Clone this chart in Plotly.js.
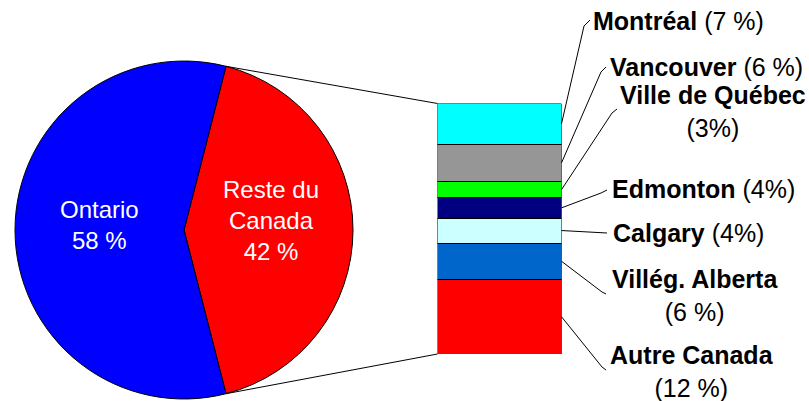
<!DOCTYPE html>
<html><head><meta charset="utf-8">
<script src="https://cdn.plot.ly/plotly-3.0.1.min.js"></script>
<style>html,body{margin:0;padding:0;background:#fff;}#chart{width:809px;height:401px;}</style>
</head><body><div id="chart"></div>
<script>
// ---- data ----
const pieLabels = ['Reste du<br>Canada', 'Ontario'];
const pieValues = [42, 58];
const pieColors = ['#FF0000', '#0000FF'];

const cityNames = ['Autre Canada', 'Villég. Alberta', 'Calgary', 'Edmonton', 'Ville de Québec', 'Vancouver', 'Montréal'];
// segment sizes as drawn in the bar
const cityValues = [12.5, 6.1, 4.2, 3.4, 2.7, 6.3, 6.8];
const cityPctText = ['(12 %)', '(6 %)', '(4%)', '(4%)', '(3%)', '(6 %)', '(7 %)'];
const cityColors = ['#FF0000', '#0066CC', '#CCFFFF', '#000080', '#00FF00', '#969696', '#00FFFF'];

// ---- layout geometry (pixels) ----
const W = 809, H = 401;
const FONT = '"Liberation Sans", Arial, sans-serif';
const pieBox = {x0: 15, x1: 353, y0: 61, y1: 399};
const barBox = {x0: 437.5, x1: 561.5, y0: 103.5, y1: 354};
// pie label centres [x, y]
const pieLabelPos = [[271, 220], [99, 225]];
// city labels: [twoLines, anchorX, xanchor, centerY, leaderEnd, hookEnd]
const labelPos = [
  [true, 692, 'center', 371, [602, 367], [606, 370]],
  [true, 695, 'center', 295, [602, 292], [606, 294]],
  [false, 612.5, 'left', 233, [607, 233], [607, 233]],
  [false, 611.5, 'left', 188.5, [601, 193], [607, 190]],
  [true, 713, 'center', 111.5, [612, 113], [617, 109]],
  [false, 610, 'left', 67, [601, 72], [606, 67]],
  [false, 593, 'left', 21, [584, 26], [590, 20]]
];

const fx = p => p / W;
const fy = p => 1 - p / H;

const total = cityValues.reduce((a, b) => a + b, 0);
const yPix = v => barBox.y1 - (v / total) * (barBox.y1 - barBox.y0);

// pie geometry
const pieTotal = pieValues.reduce((a, b) => a + b, 0);
const sweep = pieValues[0] / pieTotal * 360;
const rotation = 90 - sweep / 2;
const cx = (pieBox.x0 + pieBox.x1) / 2, cy = (pieBox.y0 + pieBox.y1) / 2;
const R = Math.min(pieBox.x1 - pieBox.x0, pieBox.y1 - pieBox.y0) / 2;
const rad = d => d * Math.PI / 180;
const pTop = [cx + R * Math.sin(rad(rotation)), cy - R * Math.cos(rad(rotation))];
const pBot = [cx + R * Math.sin(rad(rotation + sweep)), cy - R * Math.cos(rad(rotation + sweep))];

const traces = [];
traces.push({
  type: 'pie',
  values: pieValues,
  labels: pieLabels,
  textinfo: 'none',
  marker: {colors: pieColors, line: {color: '#000000', width: 1}},
  sort: false,
  direction: 'clockwise',
  rotation: rotation,
  domain: {x: [fx(pieBox.x0), fx(pieBox.x1)], y: [fy(pieBox.y1), fy(pieBox.y0)]},
  showlegend: false,
  hoverinfo: 'none'
});
cityNames.forEach((n, i) => {
  traces.push({
    type: 'bar',
    x: [0],
    y: [cityValues[i]],
    name: n,
    width: 1,
    marker: {color: cityColors[i], line: {color: '#000000', width: 1}},
    showlegend: false,
    hoverinfo: 'none'
  });
});

const shapes = [];
const annotations = [];
// pie labels
pieLabels.forEach((l, i) => {
  annotations.push({
    xref: 'paper', yref: 'paper',
    x: fx(pieLabelPos[i][0]), y: fy(pieLabelPos[i][1]),
    xanchor: 'center', yanchor: 'middle', align: 'center',
    showarrow: false,
    text: l + '<br>' + pieValues[i] + ' %',
    font: {family: FONT, size: 24, color: '#FFFFFF'}
  });
});
// connectors from pie to bar
shapes.push({type: 'line', xref: 'paper', yref: 'paper', x0: fx(pTop[0]), y0: fy(pTop[1]), x1: fx(barBox.x0), y1: fy(barBox.y0), line: {color: '#000000', width: 1}});
shapes.push({type: 'line', xref: 'paper', yref: 'paper', x0: fx(pBot[0]), y0: fy(pBot[1]), x1: fx(barBox.x0), y1: fy(barBox.y1), line: {color: '#000000', width: 1}});

let cum = 0;
cityNames.forEach((n, i) => {
  const mid = cum + cityValues[i] / 2;
  cum += cityValues[i];
  const [two, ax, xanc, tcy, le, he] = labelPos[i];
  const sx = barBox.x1, sy = yPix(mid);
  const path = `M ${fx(sx)},${fy(sy)} L ${fx(le[0])},${fy(le[1])} L ${fx(he[0])},${fy(he[1])}`;
  shapes.push({type: 'path', xref: 'paper', yref: 'paper', path: path, line: {color: '#000000', width: 1}});
  annotations.push({
    xref: 'paper', yref: 'paper',
    x: fx(xanc === 'left' ? ax - 2 : ax), y: fy(tcy),
    xanchor: xanc, yanchor: 'middle', align: 'center',
    showarrow: false,
    text: '<b>' + n + '</b>' + (two ? '<br>' : ' ') + cityPctText[i],
    font: {family: FONT, size: 25, color: '#000000'}
  });
});

const layout = {
  width: W, height: H,
  margin: {l: 0, r: 0, t: 0, b: 0, pad: 0},
  paper_bgcolor: '#FFFFFF', plot_bgcolor: 'rgba(0,0,0,0)',
  barmode: 'stack',
  bargap: 0,
  xaxis: {domain: [fx(barBox.x0), fx(barBox.x1)], range: [-0.5, 0.5], visible: false, fixedrange: true},
  yaxis: {domain: [fy(barBox.y1), fy(barBox.y0)], range: [0, total], visible: false, fixedrange: true},
  shapes: shapes,
  annotations: annotations,
  showlegend: false
};

Plotly.newPlot('chart', traces, layout, {staticPlot: true, displayModeBar: false});
</script>
</body></html>
